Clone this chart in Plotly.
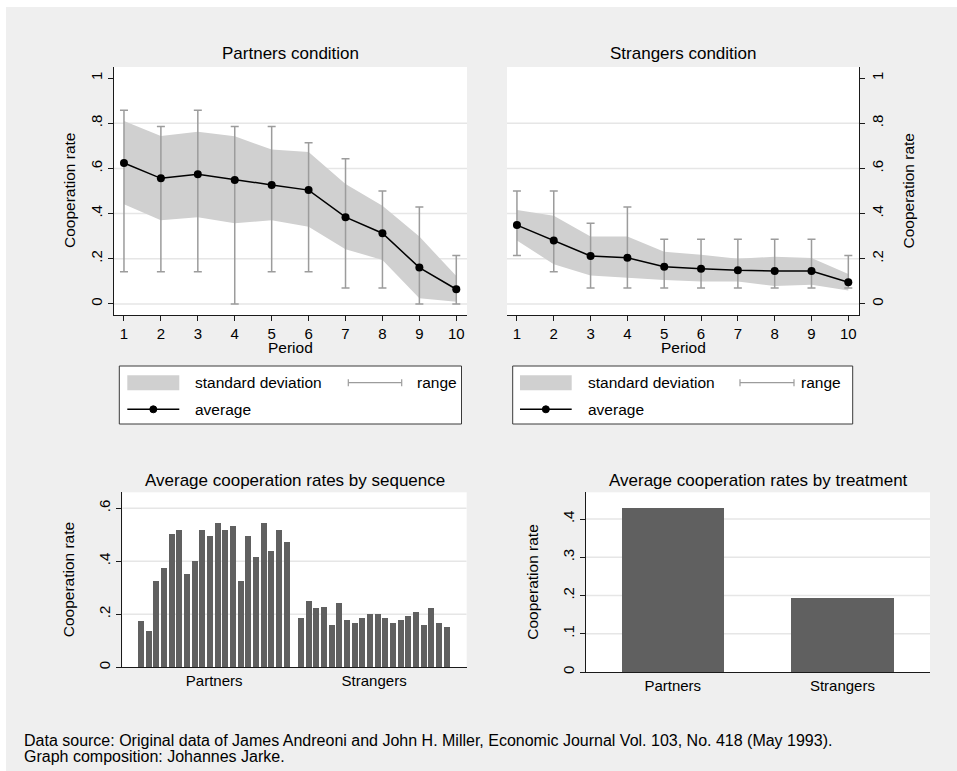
import numpy as np
import plotly.graph_objects as go

# ---------------- data ----------------
periods = list(range(1, 11))

partners_avg = [0.624, 0.556, 0.574, 0.549, 0.527, 0.504, 0.384, 0.313, 0.161, 0.065]
partners_sd_hi = [0.810, 0.743, 0.762, 0.742, 0.684, 0.673, 0.531, 0.435, 0.298, 0.124]
partners_sd_lo = [0.441, 0.370, 0.384, 0.357, 0.370, 0.342, 0.242, 0.195, 0.025, 0.010]
partners_max = [0.857, 0.786, 0.857, 0.786, 0.786, 0.714, 0.643, 0.500, 0.429, 0.214]
partners_min = [0.143, 0.143, 0.143, 0.000, 0.143, 0.143, 0.071, 0.071, 0.000, 0.000]

strangers_avg = [0.349, 0.281, 0.212, 0.204, 0.165, 0.156, 0.149, 0.146, 0.146, 0.096]
strangers_sd_hi = [0.416, 0.390, 0.299, 0.299, 0.231, 0.218, 0.200, 0.209, 0.203, 0.132]
strangers_sd_lo = [0.281, 0.176, 0.126, 0.115, 0.106, 0.099, 0.099, 0.079, 0.085, 0.060]
strangers_max = [0.500, 0.500, 0.357, 0.429, 0.286, 0.286, 0.286, 0.286, 0.286, 0.214]
strangers_min = [0.214, 0.143, 0.071, 0.071, 0.071, 0.071, 0.071, 0.071, 0.071, 0.071]

seq_partners = [0.172, 0.137, 0.325, 0.372, 0.502, 0.516, 0.352, 0.401, 0.516, 0.494,
                0.543, 0.516, 0.530, 0.325, 0.494, 0.416, 0.543, 0.438, 0.516, 0.473]
seq_strangers = [0.186, 0.249, 0.221, 0.228, 0.157, 0.243, 0.179, 0.165, 0.186, 0.200,
                 0.200, 0.186, 0.165, 0.179, 0.192, 0.206, 0.157, 0.221, 0.165, 0.150]

treatments = ["Partners", "Strangers"]
treatment_avg = [0.428, 0.193]

top_yticks = [0, 0.2, 0.4, 0.6, 0.8, 1]
top_yticktext = ["0", ".2", ".4", ".6", ".8", "1"]
seq_yticks = [0, 0.2, 0.4, 0.6]
seq_yticktext = ["0", ".2", ".4", ".6"]
trt_yticks = [0, 0.1, 0.2, 0.3, 0.4]
trt_yticktext = ["0", ".1", ".2", ".3", ".4"]

# ---------------- style ----------------
W, H = 957, 771
FONT = "Liberation Sans, Arial, Helvetica, sans-serif"
BG = "#efefef"
BAND = "#d0d0d0"
RANGE = "#9c9c9c"
BAR = "#606060"
GRID = "#e6e6e6"
AXIS = "#1a1a1a"

TOP_XRANGE = [0.73, 10.29]
TOP_YRANGE = [-0.049, 1.049]
SEQ_XRANGE = [-2.48, 42.42]
SEQ_YRANGE = [0, 0.66]
TRT_XRANGE = [-0.513, 1.516]
TRT_YRANGE = [0, 0.47]


def px(x):
    return x / W


def py(y):
    return 1 - y / H


fig = go.Figure()


def add_condition(avg, lo, hi, mn, mx, xa, ya):
    # shaded +/- one standard deviation band
    fig.add_trace(go.Scatter(x=periods, y=lo, mode="lines", line=dict(width=0),
                             hoverinfo="skip", showlegend=False, xaxis=xa, yaxis=ya))
    fig.add_trace(go.Scatter(x=periods, y=hi, mode="lines", line=dict(width=0),
                             fill="tonexty", fillcolor=BAND, showlegend=False,
                             xaxis=xa, yaxis=ya))
    # min-max range as capped spikes
    mid = [(a + b) / 2 for a, b in zip(mn, mx)]
    half = [(b - a) / 2 for a, b in zip(mn, mx)]
    fig.add_trace(go.Scatter(x=periods, y=mid, mode="markers",
                             marker=dict(size=1, color="rgba(0,0,0,0)"),
                             error_y=dict(type="data", array=half, symmetric=True,
                                          color=RANGE, thickness=1.5, width=4),
                             showlegend=False, xaxis=xa, yaxis=ya))
    # period averages
    fig.add_trace(go.Scatter(x=periods, y=avg, mode="lines+markers",
                             line=dict(color="black", width=1.5),
                             marker=dict(size=8, color="black"),
                             showlegend=False, xaxis=xa, yaxis=ya))


add_condition(partners_avg, partners_sd_lo, partners_sd_hi, partners_min, partners_max, "x", "y")
add_condition(strangers_avg, strangers_sd_lo, strangers_sd_hi, strangers_min, strangers_max, "x2", "y2")

# bars by sequence, grouped by treatment
group_gap = 0.85
x_p = np.arange(len(seq_partners))
x_s = np.arange(len(seq_strangers)) + len(seq_partners) + group_gap
fig.add_trace(go.Bar(x=x_p, y=seq_partners, width=0.78, marker=dict(color=BAR, line=dict(width=0)),
                     showlegend=False, xaxis="x3", yaxis="y3"))
fig.add_trace(go.Bar(x=x_s, y=seq_strangers, width=0.78, marker=dict(color=BAR, line=dict(width=0)),
                     showlegend=False, xaxis="x3", yaxis="y3"))

# bars by treatment
fig.add_trace(go.Bar(x=list(range(len(treatments))), y=treatment_avg, width=0.604,
                     marker=dict(color=BAR, line=dict(width=0)),
                     showlegend=False, xaxis="x4", yaxis="y4"))

tickfont = dict(family=FONT, size=15, color="black")

common_y = dict(showgrid=False, zeroline=False, showline=True, linecolor=AXIS, linewidth=1.2,
                ticks="outside", ticklen=5, tickwidth=1.2, tickcolor=AXIS, tickangle=-90,
                tickfont=tickfont, fixedrange=True)
common_x = dict(showgrid=False, zeroline=False, showline=True, linecolor=AXIS, linewidth=1.2,
                tickfont=tickfont, fixedrange=True)

top_y = [py(315), py(67)]
fig.update_layout(
    xaxis=dict(domain=[px(114), px(467)], range=TOP_XRANGE, tickvals=periods,
               ticks="outside", ticklen=5, tickwidth=1.2, tickcolor=AXIS, anchor="y", **common_x),
    yaxis=dict(domain=top_y, range=TOP_YRANGE, tickvals=top_yticks, ticktext=top_yticktext,
               anchor="x", side="left", **common_y),
    xaxis2=dict(domain=[px(507), px(859)], range=TOP_XRANGE, tickvals=periods,
                ticks="outside", ticklen=5, tickwidth=1.2, tickcolor=AXIS, anchor="y2", **common_x),
    yaxis2=dict(domain=top_y, range=TOP_YRANGE, tickvals=top_yticks, ticktext=top_yticktext,
                anchor="x2", side="right", **common_y),
    xaxis3=dict(domain=[px(122.3), px(466.7)], range=SEQ_XRANGE,
                tickvals=[x_p.mean(), x_s.mean()], ticktext=treatments, ticks="", anchor="y3",
                **common_x),
    yaxis3=dict(domain=[py(667.3), py(492.3)], range=SEQ_YRANGE, tickvals=seq_yticks,
                ticktext=seq_yticktext, anchor="x3", **common_y),
    xaxis4=dict(domain=[px(585.7), px(930)], range=TRT_XRANGE,
                tickvals=list(range(len(treatments))), ticktext=treatments, ticks="", anchor="y4",
                **common_x),
    yaxis4=dict(domain=[py(672), py(492.3)], range=TRT_YRANGE, tickvals=trt_yticks,
                ticktext=trt_yticktext, anchor="x4", **common_y),
)

shapes = []
annotations = []

# white edge strips
shapes.append(dict(type="rect", xref="paper", yref="paper", x0=0, x1=px(6), y0=0, y1=1,
                   fillcolor="white", line=dict(width=0), layer="below"))
shapes.append(dict(type="rect", xref="paper", yref="paper", x0=0, x1=1, y0=py(7), y1=1,
                   fillcolor="white", line=dict(width=0), layer="below"))


def gridlines(xa, ya, xrange_, values):
    for v in values:
        shapes.append(dict(type="line", xref=xa, yref=ya, x0=xrange_[0], x1=xrange_[1],
                           y0=v, y1=v, line=dict(color=GRID, width=1.5), layer="below"))


gridlines("x", "y", TOP_XRANGE, top_yticks[:-1])
gridlines("x2", "y2", TOP_XRANGE, top_yticks[:-1])
gridlines("x3", "y3", SEQ_XRANGE, seq_yticks[1:])
gridlines("x4", "y4", TRT_XRANGE, trt_yticks[1:])


def text(x, y, s, size=15.5, angle=0, xanchor="center", yanchor="middle"):
    annotations.append(dict(x=px(x), y=py(y), xref="paper", yref="paper", text=s,
                            showarrow=False, textangle=angle, xanchor=xanchor, yanchor=yanchor,
                            font=dict(family=FONT, size=size, color="black")))


# panel titles and axis titles
text(290.5, 54, "Partners condition", size=17)
text(683, 54, "Strangers condition", size=17)
text(294.5, 480, "Average cooperation rates by sequence", size=17)
text(758, 480, "Average cooperation rates by treatment", size=17)
text(290.5, 348, "Period")
text(683, 348, "Period")
text(69, 191, "Cooperation rate", angle=-90)
text(907.5, 191, "Cooperation rate", angle=-90)
text(68.3, 580, "Cooperation rate", angle=-90)
text(531.7, 582, "Cooperation rate", angle=-90)


# legends under the two condition panels
def legend(x0, x1, sw0, sw1, tx, r0, r1, rtx):
    top, bot = 366, 424
    row1, row2 = 382.7, 409.3
    shapes.append(dict(type="rect", xref="paper", yref="paper", x0=px(x0), x1=px(x1),
                       y0=py(bot), y1=py(top), fillcolor="white",
                       line=dict(color="#3a3a3a", width=1)))
    shapes.append(dict(type="rect", xref="paper", yref="paper", x0=px(sw0), x1=px(sw1),
                       y0=py(row1 + 7.5), y1=py(row1 - 7.5), fillcolor=BAND, line=dict(width=0)))
    shapes.append(dict(type="line", xref="paper", yref="paper", x0=px(r0), x1=px(r1),
                       y0=py(row1), y1=py(row1), line=dict(color=RANGE, width=1.2)))
    for xe in (r0, r1):
        shapes.append(dict(type="line", xref="paper", yref="paper", x0=px(xe), x1=px(xe),
                           y0=py(row1 - 3.5), y1=py(row1 + 3.5), line=dict(color=RANGE, width=1.2)))
    shapes.append(dict(type="line", xref="paper", yref="paper", x0=px(sw0), x1=px(sw1),
                       y0=py(row2), y1=py(row2), line=dict(color="black", width=1.5)))
    cx = (sw0 + sw1) / 2
    shapes.append(dict(type="circle", xref="paper", yref="paper", x0=px(cx - 3.5), x1=px(cx + 3.5),
                       y0=py(row2 + 3.5), y1=py(row2 - 3.5), fillcolor="black",
                       line=dict(color="black", width=1)))
    text(tx, row1, "standard deviation", xanchor="left")
    text(rtx, row1, "range", xanchor="left")
    text(tx, row2, "average", xanchor="left")


legend(119.3, 461.5, 127.3, 179.3, 193, 348.3, 401.7, 414.5)
legend(512.7, 852.7, 520, 571.7, 585.5, 740, 794, 798.5)

# source note
text(22, 740, "Data source: Original data of James Andreoni and John H. Miller, "
              "Economic Journal Vol. 103, No. 418 (May 1993).", size=16, xanchor="left")
text(22, 756, "Graph composition: Johannes Jarke.", size=16, xanchor="left")

fig.update_layout(
    width=W, height=H,
    margin=dict(l=0, r=0, t=0, b=0, autoexpand=False),
    paper_bgcolor=BG, plot_bgcolor="white",
    shapes=shapes, annotations=annotations,
    showlegend=False, bargap=0,
    font=dict(family=FONT, color="black"),
)

fig.write_html("out.html", config={"displayModeBar": False})
